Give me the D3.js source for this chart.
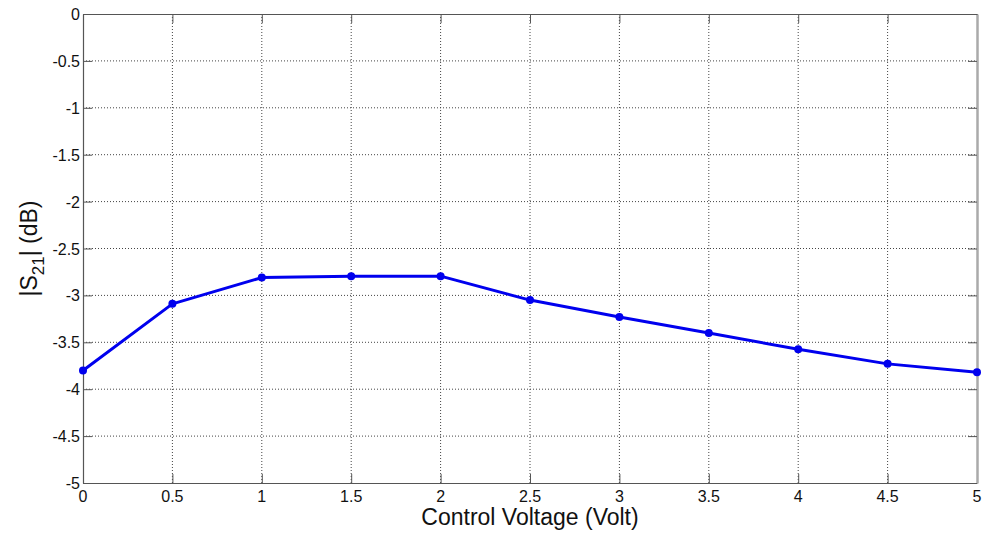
<!DOCTYPE html>
<html>
<head>
<meta charset="utf-8">
<script src="https://cdn.jsdelivr.net/npm/d3@7/dist/d3.min.js"></script>
<style>
body{margin:0;background:#fff;}
svg{display:block;font-family:"Liberation Sans",Arial,sans-serif;}
</style>
</head>
<body>
<svg id="chart" width="986" height="533"></svg>
<script>
const voltage = [0, 0.5, 1, 1.5, 2, 2.5, 3, 3.5, 4, 4.5, 5];
const s21 = [-3.80, -3.09, -2.81, -2.795, -2.795, -3.05, -3.23, -3.40, -3.575, -3.73, -3.82];
const xTicks = [0, 0.5, 1, 1.5, 2, 2.5, 3, 3.5, 4, 4.5, 5];
const yTicks = [0, -0.5, -1, -1.5, -2, -2.5, -3, -3.5, -4, -4.5, -5];

const svg = d3.select("#chart");
const L = 83, R = 977, T = 14, B = 483;
const x = d3.scaleLinear().domain([0, 5]).range([L, R]);
const y = d3.scaleLinear().domain([-5, 0]).range([B, T]);
const fmt = d => String(d);
const FONT = '"Liberation Sans", Arial, sans-serif';

// grid
const g = svg.append("g");
g.selectAll(".gx").data(xTicks.slice(1, -1)).enter().append("line")
  .attr("x1", d => x(d)).attr("x2", d => x(d)).attr("y1", T).attr("y2", B)
  .attr("stroke", "#444").attr("stroke-width", 1).attr("stroke-dasharray", "1,2");
g.selectAll(".gy").data(yTicks.slice(1, -1)).enter().append("line")
  .attr("y1", d => y(d)).attr("y2", d => y(d)).attr("x1", L).attr("x2", R)
  .attr("stroke", "#444").attr("stroke-width", 1).attr("stroke-dasharray", "1,2");

// axes (ticks + frame)
const tickLen = 9;
const xb = svg.append("g").attr("transform", `translate(0,${B})`)
  .call(d3.axisBottom(x).tickValues(xTicks).tickFormat("").tickSizeInner(-tickLen).tickSizeOuter(0));
const xt = svg.append("g").attr("transform", `translate(0,${T})`)
  .call(d3.axisTop(x).tickValues(xTicks).tickFormat("").tickSizeInner(-tickLen).tickSizeOuter(0));
const yl = svg.append("g").attr("transform", `translate(${L},0)`)
  .call(d3.axisLeft(y).tickValues(yTicks).tickFormat("").tickSizeInner(-tickLen).tickSizeOuter(0));
const yr = svg.append("g").attr("transform", `translate(${R},0)`)
  .call(d3.axisRight(y).tickValues(yTicks).tickFormat("").tickSizeInner(-tickLen).tickSizeOuter(0));

[xb, xt, yl, yr].forEach(a => {
  a.selectAll("path").attr("stroke", "#555").attr("stroke-width", 1.2);
  a.selectAll("line").attr("stroke", "#555");
  a.selectAll("text").remove();
});
yr.select("path").attr("stroke", "#aaa").attr("stroke-width", 2.5);

// tick labels
const lab = svg.append("g").attr("font-family", FONT).attr("font-size", 16).attr("fill", "#111");
lab.selectAll(".xl").data(xTicks).enter().append("text")
  .attr("x", d => x(d)).attr("y", 502).attr("text-anchor", "middle").text(fmt);
lab.selectAll(".yl").data(yTicks).enter().append("text")
  .attr("x", L - 3).attr("y", d => y(d) + 6).attr("text-anchor", "end").text(fmt);

// line
const pts = voltage.map((v, i) => [v, s21[i]]);
svg.append("path").datum(pts)
  .attr("fill", "none").attr("stroke", "#0000ee").attr("stroke-width", 3)
  .attr("stroke-linejoin", "round")
  .attr("d", d3.line().x(d => x(d[0])).y(d => y(d[1])));
svg.selectAll(".pt").data(pts).enter().append("circle")
  .attr("cx", d => x(d[0])).attr("cy", d => y(d[1])).attr("r", 4)
  .attr("fill", "#0000ee");

// labels
svg.append("text").attr("x", (L + R) / 2).attr("y", 525).attr("text-anchor", "middle")
  .attr("font-family", FONT).attr("font-size", 23).attr("fill", "#111").text("Control Voltage (Volt)");
const yt = svg.append("text").attr("transform", `translate(37,${(T + B) / 2}) rotate(-90)`)
  .attr("text-anchor", "middle").attr("font-family", FONT).attr("font-size", 23).attr("fill", "#111");
yt.append("tspan").text("|S");
yt.append("tspan").attr("dy", 7).attr("font-size", 17).text("21");
yt.append("tspan").attr("dy", -7).text("| (dB)");
</script>
</body>
</html>
